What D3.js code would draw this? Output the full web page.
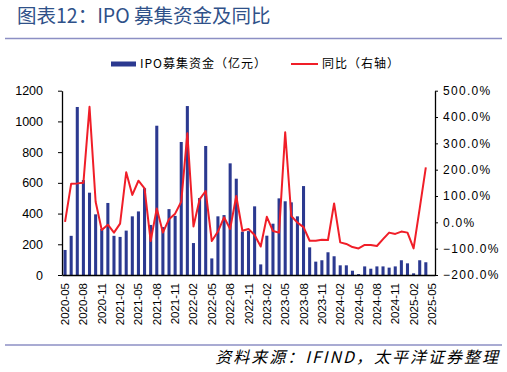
<!DOCTYPE html>
<html>
<head>
<meta charset="utf-8">
<script src="https://cdn.jsdelivr.net/npm/d3@7"></script>
<style>
  body { margin: 0; background: #fff; }
  svg { display: block; font-family: "Liberation Sans", Arial, sans-serif; }
  .cjk { font-family: "Noto Sans CJK SC", sans-serif; }
</style>
</head>
<body>
<svg id="chart" width="507" height="372"></svg>
<script>
// monthly categories 2020-05 .. 2025-05
const months = [];
for (let y = 2020, m = 5; y < 2025 || (y === 2025 && m <= 5); m++) {
    if (m > 12) { m = 1; y++; }
    months.push(y + '-' + String(m).padStart(2, '0'));
}

// IPO募集资金（亿元）
const amount = [
    163, 255, 1094, 618, 536, 395, 300, 469, 255, 248,
    289, 382, 414, 565, 326, 972, 312, 429, 385, 866,
    1100, 208, 501, 840, 108, 382, 390, 727, 627, 282,
    286, 447, 69, 256, 334, 499, 480, 473, 382, 579,
    180, 87, 96, 148, 122, 63, 63, 28, 6, 56,
    41, 56, 56, 48, 56, 96, 76, 11, 96, 83,
    null
];

// 同比（右轴）, %
const yoy = [
    2, 147, 148, 150, 439, 78, -29, -9, -39, -5,
    190, 104, 158, 129, -71, 53, -39, 12, 33, 78,
    338, -16, 87, 119, -71, -35, 19, -25, 100, -32,
    -25, -48, -92, 21, -33, -39, 342, 24, -1, -18,
    -70, -70, -66, -67, 72, -76, -82, -94, -99, -86,
    -86, -90, -64, -39, -44, -35, -39, -99, 53, 209,
    null
];

const leftTicks = [0, 200, 400, 600, 800, 1000, 1200];
const rightTicks = [-200, -100, 0, 100, 200, 300, 400, 500];

const svg = d3.select('#chart');
const plotL = 62, plotR = 435, plotT = 90.7, plotB = 275;

const x = d3.scaleBand()
    .domain(months)
    .range([plotL, plotR])
    .paddingInner(0.5)
    .paddingOuter(0.25);

const yL = d3.scaleLinear().domain([0, 1200]).range([plotB, plotT]);
const yR = d3.scaleLinear().domain([-200, 500]).range([plotB, plotT]);

// title
svg.append('text')
    .attr('class', 'cjk')
    .attr('x', 17).attr('y', 23)
    .attr('font-size', 19.5)
    .attr('fill', '#2f5189')
    .text('图表12：IPO 募集资金及同比');

svg.append('line')
    .attr('x1', 5).attr('x2', 502)
    .attr('y1', 38.5).attr('y2', 38.5)
    .attr('stroke', '#8c8fc4').attr('stroke-width', 1.5);

// legend
svg.append('rect')
    .attr('x', 111).attr('y', 61.5)
    .attr('width', 25).attr('height', 5)
    .attr('fill', '#2b3990');
svg.append('text')
    .attr('class', 'cjk')
    .attr('x', 140).attr('y', 68)
    .attr('font-size', 12)
    .attr('letter-spacing', 1)
    .text('IPO募集资金（亿元）');
svg.append('line')
    .attr('x1', 291).attr('x2', 318)
    .attr('y1', 64).attr('y2', 64)
    .attr('stroke', '#f01e28').attr('stroke-width', 2);
svg.append('text')
    .attr('class', 'cjk')
    .attr('x', 322).attr('y', 68)
    .attr('font-size', 12)
    .attr('letter-spacing', 1)
    .text('同比（右轴）');

// bars
svg.append('g')
    .selectAll('rect')
    .data(months.map((m, i) => ({m: m, v: amount[i]})).filter(d => d.v != null))
    .join('rect')
    .attr('x', d => x(d.m))
    .attr('width', x.bandwidth())
    .attr('y', d => yL(d.v))
    .attr('height', d => plotB - yL(d.v))
    .attr('fill', '#2b3990');

// line
const line = d3.line()
    .defined(d => d.v != null)
    .x(d => x(d.m) + x.bandwidth() / 2)
    .y(d => yR(d.v));

svg.append('path')
    .datum(months.map((m, i) => ({m: m, v: yoy[i]})))
    .attr('d', line)
    .attr('fill', 'none')
    .attr('stroke', '#f01e28')
    .attr('stroke-width', 2)
    .attr('stroke-linejoin', 'round');

// axes
const axL = svg.append('g')
    .attr('transform', `translate(${plotL},0)`)
    .call(d3.axisLeft(yL).tickValues(leftTicks).tickSize(4).tickPadding(15).tickSizeOuter(0)
        .tickFormat(d3.format('d')));
axL.selectAll('text').attr('font-size', 12.5).attr('fill', '#000');

const axR = svg.append('g')
    .attr('transform', `translate(${plotR},0)`)
    .call(d3.axisRight(yR).tickValues(rightTicks).tickSize(3).tickPadding(5).tickSizeOuter(0)
        .tickFormat(d => d3.format('.1f')(d) + '%'));
axR.selectAll('text').attr('font-size', 12).attr('letter-spacing', 1.3).attr('fill', '#000');

const axB = svg.append('g')
    .attr('transform', `translate(0,${plotB})`)
    .call(d3.axisBottom(x).tickValues(months.filter((m, i) => i % 3 === 0)).tickSize(0).tickSizeOuter(0));
axB.selectAll('text')
    .attr('font-size', 11.5)
    .attr('fill', '#000')
    .attr('transform', 'rotate(-90)')
    .attr('text-anchor', 'end')
    .attr('x', -8).attr('y', 0).attr('dy', '0.35em');

svg.selectAll('.domain').attr('stroke', '#000').attr('stroke-width', 1.3);
svg.selectAll('.tick line').attr('stroke', '#000');

// footer
svg.append('line')
    .attr('x1', 5).attr('x2', 502)
    .attr('y1', 345).attr('y2', 345)
    .attr('stroke', '#8c8fc4').attr('stroke-width', 1.5);
svg.append('text')
    .attr('class', 'cjk')
    .attr('x', 500).attr('y', 363)
    .attr('text-anchor', 'end')
    .attr('font-size', 16)
    .attr('font-style', 'italic')
    .attr('letter-spacing', 2)
    .text('资料来源：IFIND，太平洋证券整理');
</script>
</body>
</html>
